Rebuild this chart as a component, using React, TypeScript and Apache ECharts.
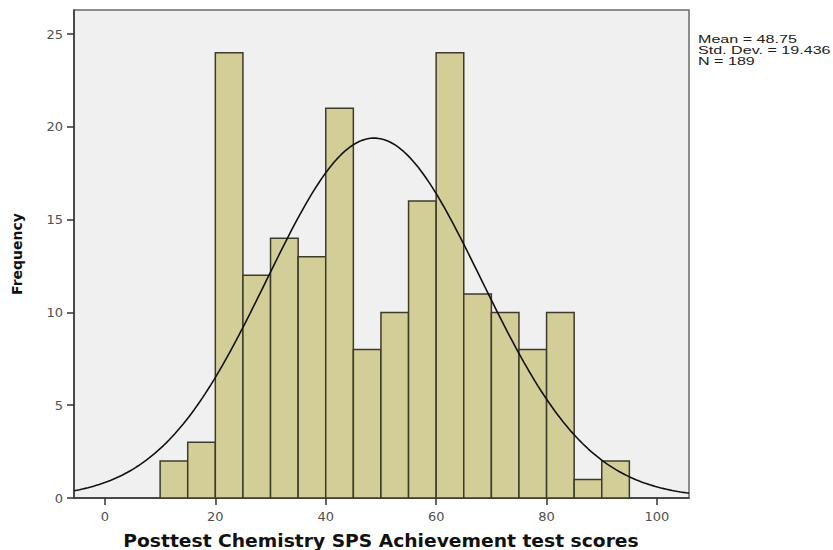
import React, { useEffect, useRef } from "react";
import * as echarts from "echarts";

const BIN_STARTS = [10, 15, 20, 25, 30, 35, 40, 45, 50, 55, 60, 65, 70, 75, 80, 85, 90];
const BIN_WIDTH = 5;
const COUNTS = [2, 3, 24, 12, 14, 13, 21, 8, 10, 16, 24, 11, 10, 8, 10, 1, 2];
const X_TICKS = [0, 20, 40, 60, 80, 100];
const Y_TICKS = [0, 5, 10, 15, 20, 25];
const MEAN = 48.75;
const SD = 19.436;
const N = 189;
const X_MIN = -5.6;
const X_MAX = 105.8;
const Y_MAX = 26.3;
const X_TITLE = "Posttest Chemistry SPS Achievement test scores";
const Y_TITLE = "Frequency";
const STATS = ["Mean = 48.75", "Std. Dev. = 19.436", "N = 189"];

function normalCurve(): number[][] {
  const pts: number[][] = [];
  const steps = 220;
  for (let i = 0; i <= steps; i++) {
    const x = X_MIN + ((X_MAX - X_MIN) * i) / steps;
    const z = (x - MEAN) / SD;
    const y = ((N * BIN_WIDTH) / (SD * Math.sqrt(2 * Math.PI))) * Math.exp(-0.5 * z * z);
    pts.push([x, y]);
  }
  return pts;
}

export default function App() {
  const ref = useRef<HTMLDivElement>(null);
  useEffect(() => {
    if (!ref.current) return;
    const chart = echarts.init(ref.current, null, { renderer: "svg" });
    const barData = BIN_STARTS.map((s, i) => [s, s + BIN_WIDTH, COUNTS[i]]);
    chart.setOption({
      animation: false,
      backgroundColor: "#ffffff",
      grid: {
        left: 74,
        top: 10,
        right: 144,
        bottom: 52,
        show: true,
        outerBoundsMode: "none",
        containLabel: false,
        backgroundColor: "#f0f0f0",
        borderColor: "#6a6a6a",
        borderWidth: 1.5,
      },
      xAxis: {
        type: "value",
        min: X_MIN,
        max: X_MAX,
        axisLine: { show: true, onZero: false, lineStyle: { color: "#333", width: 1.5 } },
        axisTick: {
          show: true,
          length: 7,
          customValues: X_TICKS,
          lineStyle: { color: "#333", width: 1.5 },
        },
        axisLabel: {
          customValues: X_TICKS,
          margin: 12,
          fontFamily: "DejaVu Sans",
          fontSize: 13,
          color: "#505050",
        },
        splitLine: { show: false },
      },
      yAxis: {
        type: "value",
        min: 0,
        max: Y_MAX,
        name: Y_TITLE,
        nameLocation: "middle",
        nameGap: 50,
        nameRotate: 90,
        nameTextStyle: {
          fontFamily: "DejaVu Sans",
          fontWeight: "bold",
          fontSize: 14,
          color: "#111",
        },
        axisLine: { show: true, onZero: false, lineStyle: { color: "#333", width: 1.5 } },
        axisTick: {
          show: true,
          length: 7,
          customValues: Y_TICKS,
          lineStyle: { color: "#333", width: 1.5 },
        },
        axisLabel: {
          customValues: Y_TICKS,
          margin: 11,
          fontFamily: "DejaVu Sans",
          fontSize: 13,
          color: "#505050",
        },
        splitLine: { show: false },
      },
      series: [
        {
          type: "custom",
          data: barData,
          encode: { x: [0, 1], y: 2 },
          renderItem: (params: any, api: any) => {
            const x0 = api.value(0);
            const x1 = api.value(1);
            const v = api.value(2);
            const p0 = api.coord([x0, v]);
            const p1 = api.coord([x1, 0]);
            return {
              type: "rect",
              shape: { x: p0[0], y: p0[1], width: p1[0] - p0[0], height: p1[1] - p0[1] },
              style: { fill: "#d3ce97", stroke: "#3c3b2c", lineWidth: 1.5 },
            };
          },
          z: 2,
        },
        {
          type: "line",
          data: normalCurve(),
          showSymbol: false,
          smooth: false,
          lineStyle: { color: "#111", width: 1.6 },
          z: 3,
        },
      ],
      graphic: [
        {
          type: "text",
          x: 381,
          y: 541,
          scaleX: 1.1,
          style: {
            text: X_TITLE,
            fontFamily: "DejaVu Sans",
            fontWeight: "bold",
            fontSize: 17,
            fill: "#111",
            align: "center",
            verticalAlign: "middle",
          },
        },
        {
          type: "text",
          x: 698,
          y: 33,
          scaleX: 1.4,
          style: {
            text: STATS.join("\n"),
            fontFamily: "Liberation Sans",
            fontSize: 11.5,
            lineHeight: 11,
            fill: "#222",
            align: "left",
            verticalAlign: "top",
          },
        },
      ],
    });
    return () => chart.dispose();
  }, []);
  return (
    <div
      ref={ref}
      style={{ position: "fixed", left: 0, top: 0, width: 833, height: 550 }}
    />
  );
}
